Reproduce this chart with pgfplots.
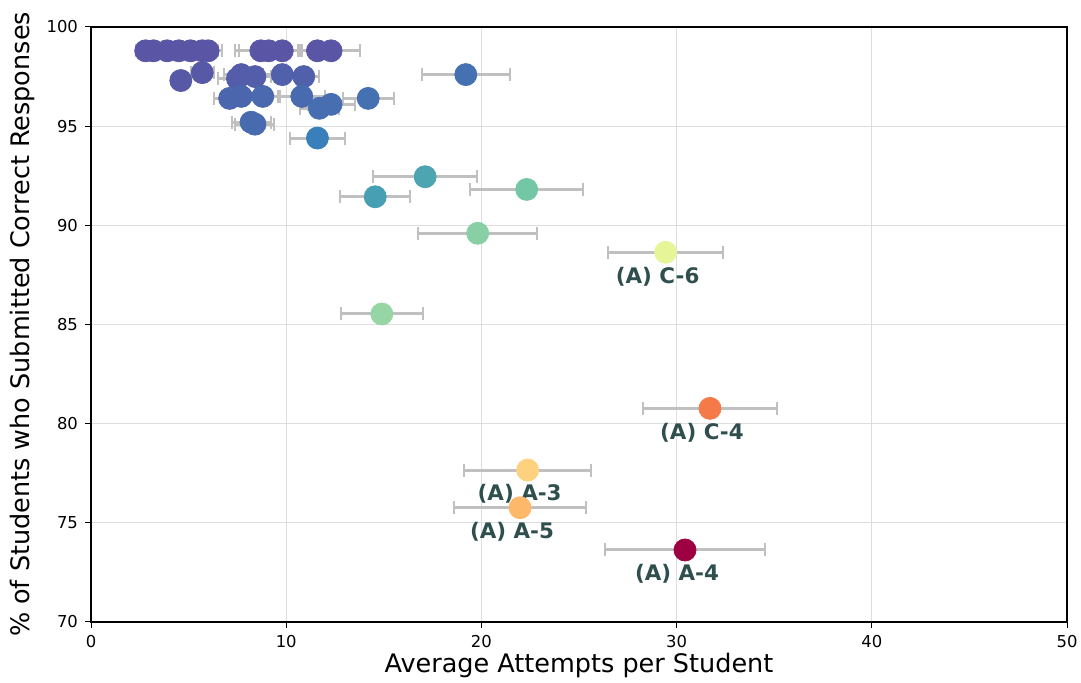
\documentclass[border=0pt]{standalone}
\usepackage{pgfplots}
\pgfplotsset{compat=1.18}
\usepackage{pgfplotstable}
\usepackage{fontspec}
\setmainfont{DejaVu Sans}
\definecolor{lblc}{RGB}{47,79,79}
\definecolor{errc}{RGB}{192,192,192}
\pgfplotsset{colormap={spectralr}{rgb255=(94,79,162) rgb255=(50,136,189) rgb255=(102,194,165) rgb255=(171,221,164) rgb255=(230,245,152) rgb255=(255,255,191) rgb255=(254,224,139) rgb255=(253,174,97) rgb255=(244,109,67) rgb255=(213,62,79) rgb255=(158,1,66)}}
\pgfplotstableread{
x y e c
2.8 98.8 0.5 0.1
3.2 98.8 0.5 0.1
3.9 98.8 0.6 0.1
4.5 98.8 0.6 0.1
5.1 98.8 0.7 0.1
5.7 98.8 0.8 0.1
6.0 98.8 0.7 0.1
8.7 98.8 1.3 0.1
9.1 98.8 1.5 0.1
9.8 98.8 0.9 0.1
11.6 98.8 1.0 0.1
12.3 98.8 1.5 0.1
4.6 97.3 0.45 0.15
5.7 97.7 0.6 0.15
7.5 97.4 1.0 0.25
7.7 97.6 0.9 0.25
8.4 97.5 0.8 0.25
9.8 97.6 1.0 0.3
10.9 97.5 0.8 0.3
7.1 96.4 0.8 0.4
7.7 96.5 0.9 0.4
8.8 96.5 0.9 0.45
10.8 96.5 1.2 0.5
11.7 95.9 1.0 0.55
12.3 96.1 1.2 0.55
14.2 96.4 1.3 0.6
8.2 95.2 1.0 0.5
8.4 95.1 1.0 0.5
11.6 94.4 1.4 0.85
19.2 97.6 2.25 0.6
17.12 92.45 2.66 1.5
14.56 91.44 1.78 1.4
22.32 91.81 2.9 2.2
19.81 89.6 3.05 2.5
29.44 88.64 2.96 4.0
14.9 85.53 2.1 2.7
31.71 80.77 3.42 7.8
22.37 77.66 3.27 6.3
21.98 75.76 3.4 6.8
30.43 73.63 4.1 10
}\data
\begin{document}
\begin{tikzpicture}
\begin{axis}[
 scale only axis, width=488pt, height=297.5pt,
 xmin=0, xmax=50, ymin=70, ymax=100,
 xtick={0,10,...,50}, ytick={70,75,...,100},
 grid=major, major grid style={color=black!13, line width=0.5pt},
 tick align=outside, tick pos=left, major tick length=3pt,
 tick style={black, line width=0.5pt},
 tick label style={font=\fontsize{8.2}{9}\selectfont},
 /pgf/number format/assume math mode=true,
 xlabel={Average Attempts per Student},
 ylabel={\% of Students who Submitted Correct Responses},
 label style={font=\fontsize{12.75}{14}\selectfont},
 xlabel style={at={(axis description cs:0.5,-0.0723)}, anchor=center},
 ylabel style={at={(axis description cs:-0.0707,0.5)}, anchor=center},
 colormap name=spectralr, point meta min=0, point meta max=10,
 axis line style={line width=0.6pt},
]
\coordinate (sw) at (rel axis cs:0,0);
\coordinate (ne) at (rel axis cs:1,1);
\addplot[draw=none, mark=none, forget plot,
 error bars/.cd, x dir=both, x explicit,
 error bar style={line width=1.5pt, color=errc},
 error mark options={line width=1pt, color=errc, mark size=3.25pt, rotate=90}]
 table[x=x, y=y, x error=e]{\data};
\addplot[scatter, only marks, mark=*, mark size=5.5pt, scatter src=explicit,
 scatter/use mapped color={draw=mapped color, fill=mapped color}]
 table[x=x, y=y, meta=c]{\data};
\node[font=\bfseries\fontsize{10.7}{12}\selectfont, text=lblc, xshift=-4pt, yshift=-12pt] at (axis cs:29.44,88.64) {(A) C-6};
\node[font=\bfseries\fontsize{10.7}{12}\selectfont, text=lblc, xshift=-4pt, yshift=-12pt] at (axis cs:31.71,80.77) {(A) C-4};
\node[font=\bfseries\fontsize{10.7}{12}\selectfont, text=lblc, xshift=-4pt, yshift=-12pt] at (axis cs:22.37,77.66) {(A) A-3};
\node[font=\bfseries\fontsize{10.7}{12}\selectfont, text=lblc, xshift=-4pt, yshift=-12pt] at (axis cs:21.98,75.76) {(A) A-5};
\node[font=\bfseries\fontsize{10.7}{12}\selectfont, text=lblc, xshift=-4pt, yshift=-12pt] at (axis cs:30.43,73.63) {(A) A-4};
\end{axis}
\pgfresetboundingbox
\path ([shift={(-45.5pt,-30.5pt)}]sw) rectangle ([shift={(7pt,13.5pt)}]ne);
\end{tikzpicture}
\end{document}
